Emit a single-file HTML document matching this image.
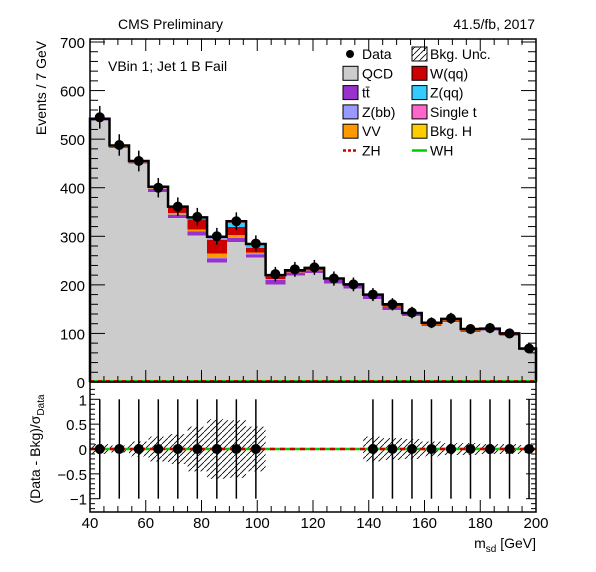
<!DOCTYPE html>
<html><head><meta charset="utf-8"><style>
body{margin:0;background:#fff}
svg{display:block;font-family:"Liberation Sans",sans-serif}
</style></head><body>
<svg id="c" width="596" height="572" viewBox="0 0 596 572">
<defs><pattern id="hatch" patternUnits="userSpaceOnUse" width="6" height="6"><path d="M0,6 L6,0" stroke="#000" stroke-width="0.8"/></pattern></defs>
<rect x="0" y="0" width="596" height="572" fill="#fff"/>
<g id="main"></g>
<g id="ratio"></g>
<text x="118" y="29" font-size="14">CMS Preliminary</text>
<text x="535" y="29" font-size="14" text-anchor="end">41.5/fb, 2017</text>
<text x="108" y="71" font-size="14">VBin 1; Jet 1 B Fail</text>
<text transform="translate(46,88) rotate(-90)" font-size="14" text-anchor="middle">Events / 7 GeV</text>
<text transform="translate(40,449) rotate(-90)" font-size="14" text-anchor="middle">(Data - Bkg)/σ<tspan font-size="10" dy="4">Data</tspan></text>
<text x="536" y="548" font-size="14" text-anchor="end">m<tspan font-size="10" dy="4">sd</tspan><tspan dy="-4"> [GeV]</tspan></text>
<g id="legend"></g>
</svg>
<script>
const binLow = [40,47,54,61,68,75,82,89,96,103,110,117,124,131,138,145,152,159,166,173,180,187,194];
const qcd  = [538,482,450,391,338,302,246,288,256,201,219,224,203,193,171,148,136,115,124,103,106,95,66];
const ttbar= [2,2,2,6,6,8,8,8,7,9,6,6,7,6,6,6,5,2,2,2,1,1,1];
const zbb  = [0,0,0,1,1,1,1,1,1,1,0,0,0,0,0,0,0,0,0,0,0,0,0];
const vv   = [1,1,1,1,3,3,10,6,3,1,1,1,1,1,1,1,0,1,1,1,1,1,0];
const wqq  = [1,2,2,3,13,21,27,16,9,5,2,2,1,1,1,2,1,2,2,1,1,1,1];
const zqq  = [0,0,0,0,0,4,3,8,8,3,1,1,1,0,1,1,0,1,1,1,1,1,1];
const singlet=[0,0,0,0,0,0,4,4,0,0,1,1,0,0,0,2,0,1,0,1,0,1,0];
const bkgh = [0,0,0,0,0,0,0,0,0,0,0,0,0,0,0,0,0,0,0,0,0,0,0];
const dataVals=[545,488,455,400,361,340,300,331,285,222,232,236,213,201,180,160,143,122,131,109,111,100,69];
const ratioVals=[0,0,0,0,0,0,0,0,0,null,null,null,null,null,0,0,0,0,0,0,0,0,0];
const ratioErr=[1,1,1,1,1,1,1,1,1,null,null,null,null,null,1,1,1,1,1,1,1,1,1];
const ratioUnc=[0.1,0.07,0.15,0.25,0.3,0.45,0.6,0.58,0.45,0,0,0,0,0,0.25,0.22,0.2,0.15,0.12,0.12,0.1,0.1,0.08];
const xTicks=[40,60,80,100,120,140,160,180,200];
const yTicks=[0,100,200,300,400,500,600,700];
const rTicks=[-1,-0.5,0,0.5,1];
const rTickLabels=["−1","−0.5","0","0.5","1"];
const binW=7;

const NS="http://www.w3.org/2000/svg";
const X0=90,X1=536;
const sx=v=>X0+(v-40)*(X1-X0)/160;
const MT=39,MB=382;
const sy=v=>382-v*0.4857;
const RT=382,RB=512;
const ry=v=>449-v*49.7;
function mk(parent,tag,attrs){const e=document.createElementNS(NS,tag);for(const k in attrs)e.setAttribute(k,attrs[k]);parent.appendChild(e);return e;}
const main=document.getElementById('main');
const ratio=document.getElementById('ratio');

const layers=[[qcd,'#cccccc','qcd'],[ttbar,'#9932cc','ttbar'],[zbb,'#9999ff','zbb'],[vv,'#ff9900','vv'],[wqq,'#cc0000','wqq'],[zqq,'#33ccff','zqq'],[singlet,'#ff66cc','single-t'],[bkgh,'#ffcc00','bkg-h']];
const totals=binLow.map(()=>0);
layers.forEach(([arr,col,name])=>{
  binLow.forEach((lo,i)=>{
    const b=totals[i],t=b+arr[i];totals[i]=t;
    if(arr[i]<=0)return;
    const x1=sx(lo),x2=Math.min(sx(lo+binW),X1);
    const r=mk(main,'rect',{x:x1-0.3,y:sy(t),width:x2-x1+0.6,height:sy(b)-sy(t),fill:col,'shape-rendering':'crispEdges'});
    
    
  });
});
let d='M'+sx(40)+','+sy(0);
binLow.forEach((lo,i)=>{d+=' L'+sx(lo)+','+sy(totals[i])+' L'+Math.min(sx(lo+binW),X1)+','+sy(totals[i]);});
d+=' L'+X1+','+sy(0);
const outl=mk(main,'path',{d:d,fill:'none',stroke:'#000','stroke-width':2.5});


mk(main,'line',{x1:X0,x2:X1,y1:sy(0)-1,y2:sy(0)-1,stroke:'#00cc00','stroke-width':2});
mk(main,'line',{x1:X0,x2:X1,y1:sy(0)-1,y2:sy(0)-1,stroke:'#cc0000','stroke-width':2,'stroke-dasharray':'4,4'});
binLow.forEach((lo,i)=>{
  const cx=sx(lo+binW/2),v=dataVals[i],e=Math.sqrt(v);
  const g=mk(main,'g',{});
  
  
  mk(g,'line',{x1:cx,x2:cx,y1:sy(v+e),y2:sy(v-e),stroke:'#000','stroke-width':1.5});
  mk(g,'circle',{cx:cx,cy:sy(v),r:5,fill:'#000'});
});
mk(main,'rect',{x:X0,y:MT,width:X1-X0,height:MB-MT,fill:'none',stroke:'#000','stroke-width':1.5});
for(let v=0;v<=700;v+=20){const y=sy(v);const L=(v%100===0)?15:8;
  mk(main,'line',{x1:X0,x2:X0+L,y1:y,y2:y,stroke:'#000'});
  mk(main,'line',{x1:X1,x2:X1-L,y1:y,y2:y,stroke:'#000'});}
yTicks.forEach(v=>{const t=mk(main,'text',{x:85,y:sy(v)+6,'font-size':15,'text-anchor':'end'});t.textContent=v;
  });
for(let v=40;v<=200;v+=5){const x=sx(v);const L=(v%20===0)?12:6;
  mk(main,'line',{x1:x,x2:x,y1:MB,y2:MB-L,stroke:'#000'});
  mk(main,'line',{x1:x,x2:x,y1:MT,y2:MT+L,stroke:'#000'});}

binLow.forEach((lo,i)=>{
  if(ratioUnc[i]<=0)return;
  const x1=sx(lo),x2=Math.min(sx(lo+binW),X1);
  const r=mk(ratio,'rect',{x:x1,y:ry(ratioUnc[i]),width:x2-x1,height:ry(-ratioUnc[i])-ry(ratioUnc[i]),fill:'url(#hatch)'});
  
  
});
mk(ratio,'line',{x1:X0,x2:X1,y1:ry(0),y2:ry(0),stroke:'#00cc00','stroke-width':2.5});
mk(ratio,'line',{x1:X0,x2:X1,y1:ry(0),y2:ry(0),stroke:'#cc0000','stroke-width':2.5,'stroke-dasharray':'5,5'});
binLow.forEach((lo,i)=>{
  if(ratioVals[i]===null)return;
  const cx=sx(lo+binW/2),v=ratioVals[i],e=ratioErr[i];
  const g=mk(ratio,'g',{});
  
  
  mk(g,'line',{x1:cx,x2:cx,y1:ry(v+e),y2:ry(v-e),stroke:'#000','stroke-width':1.5});
  mk(g,'circle',{cx:cx,cy:ry(v),r:5,fill:'#000'});
});
mk(ratio,'rect',{x:X0,y:RT,width:X1-X0,height:RB-RT,fill:'none',stroke:'#000','stroke-width':1.5});
for(let k=-12;k<=12;k++){const v=k/10,y=ry(v);const L=(k%5===0)?10:5;
  mk(ratio,'line',{x1:X0,x2:X0+L,y1:y,y2:y,stroke:'#000'});
  mk(ratio,'line',{x1:X1,x2:X1-L,y1:y,y2:y,stroke:'#000'});}
rTicks.forEach((v,i)=>{const t=mk(ratio,'text',{x:87,y:ry(v)+6,'font-size':15,'text-anchor':'end'});t.textContent=rTickLabels[i];
  });
for(let v=40;v<=200;v+=5){const x=sx(v);const L=(v%20===0)?12:6;
  mk(ratio,'line',{x1:x,x2:x,y1:RB,y2:RB-L,stroke:'#000'});}
xTicks.forEach(v=>{const t=mk(ratio,'text',{x:sx(v),y:528,'font-size':15,'text-anchor':'middle'});t.textContent=v;
  });

const leg=document.getElementById('legend');
const entries=[
 [0,0,'marker','Data'],[1,0,'hatch','Bkg. Unc.'],
 [0,1,'#cccccc','QCD'],[1,1,'#cc0000','W(qq)'],
 [0,2,'#9932cc','tt̄'],[1,2,'#33ccff','Z(qq)'],
 [0,3,'#9999ff','Z(bb)'],[1,3,'#ff66cc','Single t'],
 [0,4,'#ff9900','VV'],[1,4,'#ffcc00','Bkg. H'],
 [0,5,'zh','ZH'],[1,5,'wh','WH']];
entries.forEach(([c,r,kind,label])=>{
  const bx=c?412:343, y=54+r*19.3;
  const g=mk(leg,'g',{});
  
  
  if(kind==='marker')mk(g,'circle',{cx:350,cy:y,r:4,fill:'#000'});
  else if(kind==='zh')mk(g,'line',{x1:343,x2:358,y1:y,y2:y,stroke:'#cc0000','stroke-width':2.5,'stroke-dasharray':'3,2'});
  else if(kind==='wh')mk(g,'line',{x1:412,x2:427,y1:y,y2:y,stroke:'#00cc00','stroke-width':2.5});
  else if(kind==='hatch')mk(g,'rect',{x:bx,y:y-7,width:15,height:14,fill:'url(#hatch)',stroke:'#000'});
  else mk(g,'rect',{x:bx,y:y-7,width:15,height:14,fill:kind,stroke:'#000'});
  const t=mk(g,'text',{x:bx+(c?18:19),y:y+5,'font-size':14});t.textContent=label;
});
</script>
</body></html>
